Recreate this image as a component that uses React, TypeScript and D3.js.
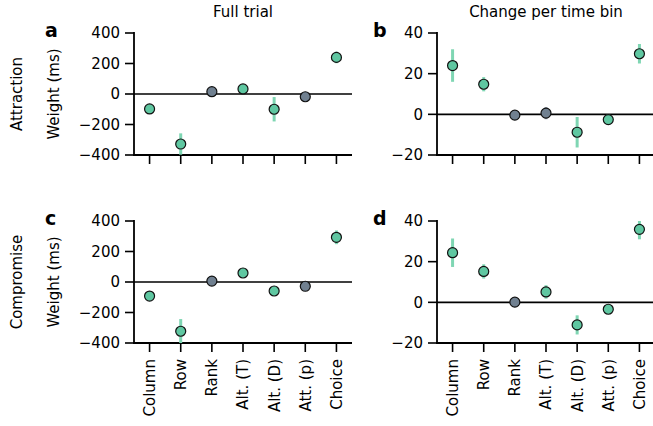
import React from "react";
import * as d3 from "d3";

const categories = ["Column", "Row", "Rank", "Alt. (T)", "Alt. (D)", "Att. (p)", "Choice"];

// Panel a: Attraction, full trial (ms)
const aMean = [-98, -328, 15, 33, -100, -18, 240];
const aErr = [12, 70, 10, 12, 80, 10, 38];
const aSig = [true, true, false, true, true, false, true];

// Panel b: Attraction, change per time bin
const bMean = [24, 14.8, -0.4, 0.6, -8.8, -2.6, 29.8];
const bErr = [8, 3.5, 1, 3, 7.5, 1.5, 4.8];
const bSig = [true, true, false, false, true, true, true];

// Panel c: Compromise, full trial (ms)
const cMean = [-92, -323, 6, 59, -59, -28, 293];
const cErr = [12, 80, 10, 12, 25, 10, 45];
const cSig = [true, true, false, true, true, false, true];

// Panel d: Compromise, change per time bin
const dMean = [24.4, 15.2, 0.1, 5.1, -11.1, -3.4, 35.9];
const dErr = [7, 3.5, 1, 3.3, 4.7, 1.5, 4.9];
const dSig = [true, true, false, true, true, true, true];

const fullTicks = [-400, -200, 0, 200, 400];
const binTicks = [-20, 0, 20, 40];

const GREEN = "#5fc7a1";
const GREEN_ERR = "#7fd6b3";
const GRAY = "#708090";
const GRAY_ERR = "#9aa6b2";
const FONT = "DejaVu Sans, sans-serif";
const FS = 15;

type PanelProps = {
  x0: number; x1: number; yTop: number; yBot: number;
  domain: [number, number]; ticks: number[];
  mean: number[]; err: number[]; sig: boolean[];
  letter: string; letterX: number; title?: string; ylabel?: string; rowLabel?: string;
  showXLabels: boolean;
};

function Panel(p: PanelProps) {
  const x = d3.scaleBand<string>().domain(categories).range([p.x0, p.x1]).paddingInner(0).paddingOuter(0);
  const y = d3.scaleLinear().domain(p.domain).range([p.yBot, p.yTop]);
  const cx = (c: string) => (x(c) as number) + x.bandwidth() / 2;
  const fmt = (v: number) => (v < 0 ? "\u2212" + Math.abs(v) : String(v));
  const yMid = (p.yTop + p.yBot) / 2;
  return (
    <g>
      {p.title && (
        <text x={(p.x0 + p.x1) / 2} y={17} textAnchor="middle" fontSize={FS} fontFamily={FONT}>{p.title}</text>
      )}
      <text x={p.letterX} y={p.yTop + 4} fontSize={19} fontWeight="bold" fontFamily={FONT}>{p.letter}</text>
      {p.ylabel && (
        <text transform={`translate(${p.x0 - 75},${yMid}) rotate(-90)`} textAnchor="middle" fontSize={FS} fontFamily={FONT}>{p.ylabel}</text>
      )}
      {p.rowLabel && (
        <text transform={`translate(${p.x0 - 112},${yMid}) rotate(-90)`} textAnchor="middle" fontSize={FS} fontFamily={FONT}>{p.rowLabel}</text>
      )}
      {/* zero line */}
      <line x1={p.x0} x2={p.x1} y1={y(0)} y2={y(0)} stroke="#000" strokeWidth={1.6} />
      {/* spines */}
      <line x1={p.x0} x2={p.x0} y1={p.yTop - 1} y2={p.yBot + 0.8} stroke="#000" strokeWidth={1.8} />
      <line x1={p.x0 - 0.9} x2={p.x1} y1={p.yBot} y2={p.yBot} stroke="#000" strokeWidth={1.8} />
      {/* y ticks */}
      {p.ticks.map((t) => (
        <g key={t}>
          <line x1={p.x0 - 9} x2={p.x0} y1={y(t)} y2={y(t)} stroke="#000" strokeWidth={1.6} />
          <text x={p.x0 - 14} y={y(t)} dy="0.36em" textAnchor="end" fontSize={FS} fontFamily={FONT}>{fmt(t)}</text>
        </g>
      ))}
      {/* x ticks */}
      {categories.map((c) => (
        <g key={c}>
          <line x1={cx(c)} x2={cx(c)} y1={p.yBot} y2={p.yBot + 9} stroke="#000" strokeWidth={1.6} />
          {p.showXLabels && (
            <text transform={`translate(${cx(c)},${p.yBot + 16}) rotate(-90)`} dy="0.36em" textAnchor="end" fontSize={FS} fontFamily={FONT}>{c}</text>
          )}
        </g>
      ))}
      {/* error bars + points */}
      {categories.map((c, i) => (
        <g key={"pt" + c}>
          <line x1={cx(c)} x2={cx(c)}
            y1={y(Math.max(p.domain[0], p.mean[i] - p.err[i]))}
            y2={y(Math.min(p.domain[1], p.mean[i] + p.err[i]))}
            stroke={p.sig[i] ? GREEN_ERR : GRAY_ERR} strokeWidth={3} />
          <circle cx={cx(c)} cy={y(p.mean[i])} r={5} fill={p.sig[i] ? GREEN : GRAY} stroke="#111" strokeWidth={1.2} />
        </g>
      ))}
    </g>
  );
}

export default function App() {
  return (
    <svg width={653} height={426} style={{ position: "absolute", left: 0, top: 0, background: "#fff" }}>
      <rect width={653} height={426} fill="#fff" />
      <Panel x0={134} x1={352} yTop={33} yBot={155} domain={[-400, 400]} ticks={fullTicks}
        mean={aMean} err={aErr} sig={aSig} letter="a" letterX={45} title="Full trial" ylabel="Weight (ms)" rowLabel="Attraction" showXLabels={false} />
      <Panel x0={437} x1={655} yTop={33} yBot={155} domain={[-20, 40]} ticks={binTicks}
        mean={bMean} err={bErr} sig={bSig} letter="b" letterX={373} title="Change per time bin" showXLabels={false} />
      <Panel x0={134} x1={352} yTop={221} yBot={343} domain={[-400, 400]} ticks={fullTicks}
        mean={cMean} err={cErr} sig={cSig} letter="c" letterX={45} ylabel="Weight (ms)" rowLabel="Compromise" showXLabels={true} />
      <Panel x0={437} x1={655} yTop={221} yBot={343} domain={[-20, 40]} ticks={binTicks}
        mean={dMean} err={dErr} sig={dSig} letter="d" letterX={373} showXLabels={true} />
    </svg>
  );
}
